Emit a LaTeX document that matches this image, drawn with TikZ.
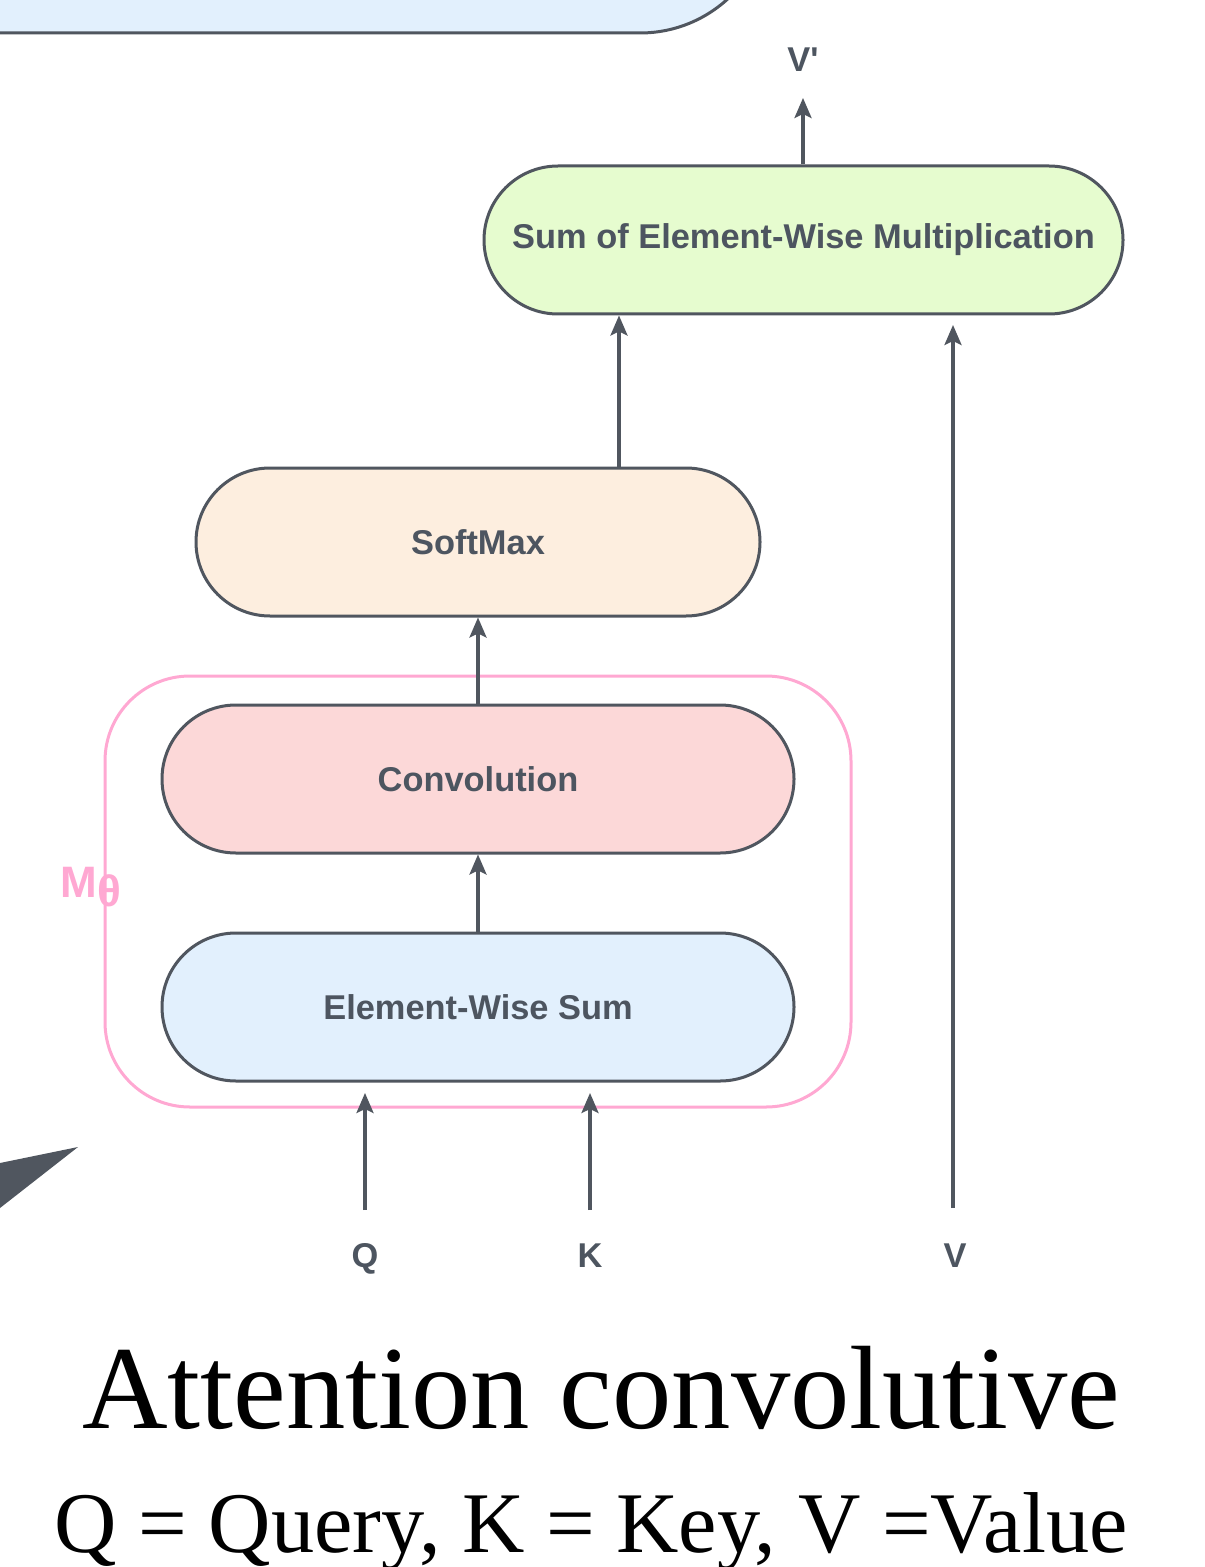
\documentclass[tikz,border=0pt]{standalone}
\usepackage{fontspec}
\setmainfont{Liberation Sans}[Ligatures=TeXOff]
\newfontfamily\serifx{Liberation Serif}
\usetikzlibrary{arrows.meta}
\definecolor{ln}{HTML}{50565F}
\definecolor{tx}{HTML}{4D5560}
\definecolor{pk}{HTML}{FFA8D2}
\definecolor{gr}{HTML}{E6FCCF}
\definecolor{orx}{HTML}{FDEEDF}
\definecolor{rd}{HTML}{FCD8D8}
\definecolor{bl}{HTML}{E2F0FD}
\begin{document}
\begin{tikzpicture}[x=0.5pt,y=-0.5pt,
  pill/.style={draw=ln, line width=1.5pt, rounded corners=37pt, minimum height=74pt,
    text=tx, font=\fontsize{17.2}{20}\selectfont\bfseries, inner sep=0pt},
  lbl/.style={text=tx, font=\fontsize{17.2}{20}\selectfont\bfseries, anchor=base, inner sep=0pt},
  arr/.style={draw=ln, line width=1.6pt, -{Stealth[length=10pt,width=8.5pt,inset=2pt]}},
  title/.style={text=black, anchor=base, inner sep=0pt}
]
\useasboundingbox (0,0) rectangle (1204,1567);
\fill[white] (0,0) rectangle (1204,1567);
\begin{scope}
  \clip (0,0) rectangle (1204,1567);
  \draw[fill=bl, draw=ln, line width=1.5pt, rounded corners=65pt] (-200,-227) rectangle (770,33);
  \fill[ln] (0,1163) -- (78,1147) -- (0,1208) -- cycle;
\end{scope}

% M-theta group
\node[draw=pk, line width=1.5pt, rounded corners=42.5pt, minimum width=373pt, minimum height=215.5pt, inner sep=0pt] (mbox) at (478,891.5) {};
\node[text=pk, font=\fontsize{22}{24}\selectfont\bfseries, anchor=base west, inner sep=0pt] (mt) at (60,897) {M\raisebox{-0.22em}{θ}};

\node[pill, fill=gr, minimum width=319.5pt] (sum) at (803.5,240) {Sum of Element-Wise Multiplication};
\node[pill, fill=orx, minimum width=282pt] (soft) at (478,542) {SoftMax};
\node[pill, fill=rd, minimum width=316pt] (conv) at (478,779) {Convolution};
\node[pill, fill=bl, minimum width=316pt] (ews) at (478,1007) {Element-Wise Sum};

% output
\node[lbl] (vp) at (803,72) {V'};
\coordinate (vpt) at (803,98);
\draw[arr] (sum.north -| vpt) -- (vpt);

% internal arrows
\coordinate (sx) at (619,0);
\draw[arr] (sx |- soft.north) -- (sx |- sum.south);
\draw[arr] (conv.north) -- (soft.south);
\draw[arr] (ews.north) -- (conv.south);

% inputs
\node[lbl] (q) at (365,1267) {Q};
\node[lbl] (k) at (590,1267) {K};
\node[lbl] (v) at (955,1267) {V};
\coordinate (qs) at (365,1210); \coordinate (qe) at (365,1093);
\coordinate (ks) at (590,1210); \coordinate (ke) at (590,1093);
\coordinate (vs) at (953,1208); \coordinate (ve) at (953,325);
\draw[arr] (qs) -- (qe);
\draw[arr] (ks) -- (ke);
\draw[arr] (vs) -- (ve);

% captions
\node[title, font=\serifx\fontsize{59.3}{60}\selectfont] (t1) at (601,1428) {Attention convolutive};
\node[title, font=\serifx\fontsize{43.2}{44}\selectfont] (t2) at (591,1552) {Q = Query, K = Key, V =Value};
\end{tikzpicture}
\end{document}
